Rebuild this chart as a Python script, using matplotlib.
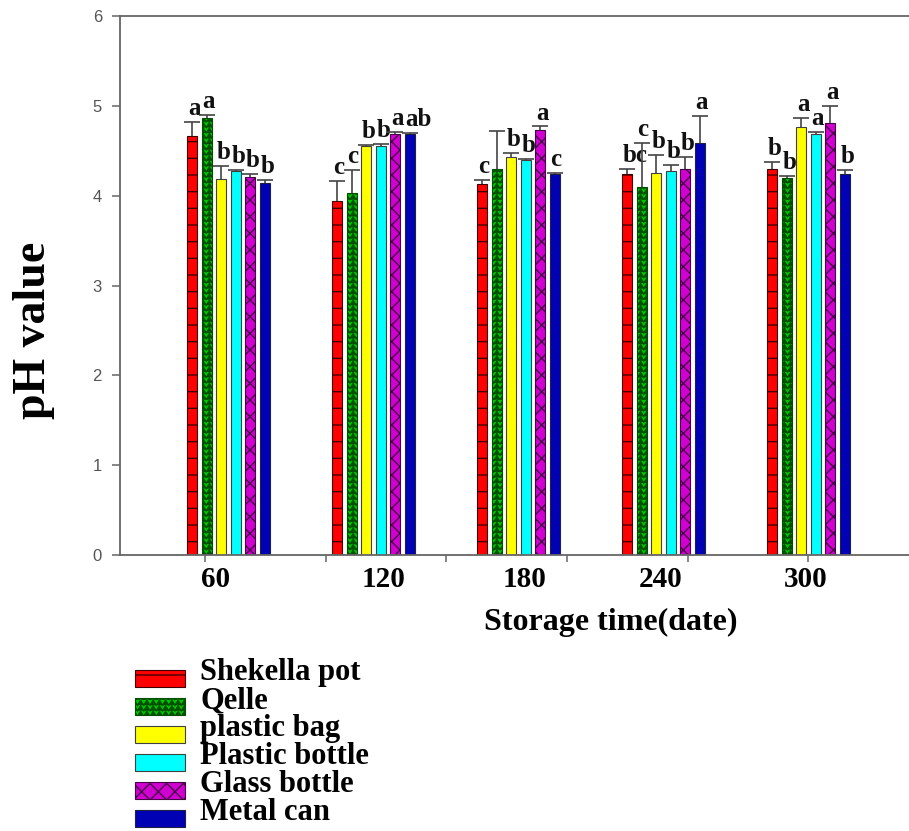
import numpy as np
import matplotlib
matplotlib.use("Agg")
import matplotlib.pyplot as plt
from matplotlib import hatch as mhatch
from matplotlib.path import Path
from matplotlib.patches import Rectangle
from matplotlib.container import BarContainer
from matplotlib.legend_handler import HandlerPatch, update_from_first_child

storage_days = ["60", "120", "180", "240", "300"]
packages = ["Shekella pot", "Qelle", "plastic bag", "Plastic bottle", "Glass bottle", "Metal can"]

# mean pH and upper error per package, one value per storage time
shekella_pot = [4.66, 3.94, 4.13, 4.24, 4.30]
shekella_pot_err = [0.16, 0.22, 0.04, 0.06, 0.07]
qelle = [4.86, 4.03, 4.30, 4.10, 4.20]
qelle_err = [0.04, 0.26, 0.42, 0.49, 0.02]
plastic_bag = [4.19, 4.55, 4.43, 4.25, 4.76]
plastic_bag_err = [0.14, 0.01, 0.05, 0.20, 0.11]
plastic_bottle = [4.27, 4.55, 4.40, 4.27, 4.69]
plastic_bottle_err = [0.02, 0.03, 0.01, 0.07, 0.02]
glass_bottle = [4.21, 4.69, 4.73, 4.30, 4.81]
glass_bottle_err = [0.03, 0.02, 0.04, 0.13, 0.19]
metal_can = [4.14, 4.69, 4.24, 4.59, 4.24]
metal_can_err = [0.03, 0.01, 0.01, 0.30, 0.05]

# significance letters (same order)
shekella_pot_sig = ["a", "c", "c", "bc", "b"]
qelle_sig = ["a", "c", "", "c", "b"]
plastic_bag_sig = ["b", "b", "b", "b", "a"]
plastic_bottle_sig = ["b", "b", "b", "b", "a"]
glass_bottle_sig = ["b", "a", "a", "b", "a"]
metal_can_sig = ["b", "ab", "c", "a", "b"]

means = [shekella_pot, qelle, plastic_bag, plastic_bottle, glass_bottle, metal_can]
errs = [shekella_pot_err, qelle_err, plastic_bag_err, plastic_bottle_err,
        glass_bottle_err, metal_can_err]
sigs = [shekella_pot_sig, qelle_sig, plastic_bag_sig, plastic_bottle_sig,
        glass_bottle_sig, metal_can_sig]


# zigzag fill for the Qelle bars, hooked in on the '*' hatch character
class ZigzagHatch(mhatch.HatchPatternBase):
    def __init__(self, hatch, density):
        self.num_rows = int(hatch.count('*') * density * 3)
        self.per_row = 2 * 16 + 1
        self.num_vertices = self.num_rows * self.per_row

    def set_vertices_and_codes(self, vertices, codes):
        xs = np.linspace(0.0, 1.0, self.per_row)
        bump = np.where(np.arange(self.per_row) % 2, 0.45, -0.45) / self.num_rows
        for k in range(self.num_rows):
            sl = slice(k * self.per_row, (k + 1) * self.per_row)
            vertices[sl, 0] = xs
            vertices[sl, 1] = (k + 0.5) / self.num_rows + bump
            codes[sl] = Path.LINETO
            codes[k * self.per_row] = Path.MOVETO


mhatch._hatch_types = [t for t in mhatch._hatch_types if t is not mhatch.Stars] + [ZigzagHatch]


# legend swatches sit a little lower than the middle of their label
def low_swatch(legend, orig_handle, xdescent, ydescent, width, height, fontsize):
    return Rectangle((-xdescent, -ydescent - 0.3 * fontsize), width, height)


fills = ["#ff0000", "#00c800", "#ffff00", "#00ffff", "#d000d0", "#0000b4"]
edges = ["#400000", "#005000", "#404040", "#404040", "#480048", "#202040"]
hatches = ["-", "*", None, None, "xx", None]

serif = "Liberation Serif"
sans = "Liberation Sans"
axis_grey = "#666666"

fig = plt.figure(figsize=(9.09, 8.31), dpi=100)
ax = fig.add_axes([120 / 909, 1 - 555 / 831, 789 / 909, 539 / 831])

x = np.arange(len(storage_days))
step = 0.1
width = 0.066

bars = []
for j, (m, e, s) in enumerate(zip(means, errs, sigs)):
    xj = x + (j - 2.5) * step
    b = ax.bar(xj, m, width, color=fills[j], edgecolor=edges[j], hatch=hatches[j],
               linewidth=0.8, label=packages[j], zorder=2)
    bars.append(b)
    _, caps, _ = ax.errorbar(xj, m, yerr=[np.zeros(len(m)), e], fmt="none",
                             ecolor="#444444", elinewidth=1.2, capsize=5.5,
                             capthick=1.2, zorder=3)
    caps[0].set_visible(False)
    for xi, mi, ei, letter in zip(xj, m, e, s):
        ax.annotate(letter, (xi, mi + ei), xytext=(-3, 5), textcoords="offset points",
                    ha="left", va="baseline", fontsize=18, fontweight="bold",
                    family=serif, color="#111111")

ax.set_xlim(-0.748, 4.693)
ax.set_ylim(0, 6)

for side in ["left", "bottom", "top"]:
    ax.spines[side].set_color(axis_grey)
    ax.spines[side].set_linewidth(1.3)
ax.spines["right"].set_visible(False)

ax.set_yticks(range(7))
ax.tick_params(axis="y", direction="out", length=6, width=1.1, color=axis_grey,
               labelcolor="#555555", labelsize=12, pad=7)
for lab in ax.get_yticklabels():
    lab.set_family(sans)

# storage time labels sit near, not exactly on, the group centres
label_nudge = [-0.09, 0.07, 0.04, -0.02, -0.02]
ax.set_xticks(x + np.array(label_nudge), storage_days)
ax.tick_params(axis="x", which="major", length=0, pad=8, labelsize=21)
for lab in ax.get_xticklabels():
    lab.set_family(serif)
    lab.set_fontweight("bold")
ax.set_xticks(np.arange(6) * 0.832 - 0.162, minor=True)
ax.tick_params(axis="x", which="minor", direction="out", length=5, width=1.1,
               color=axis_grey)

ax.set_xlabel("Storage time(date)", fontsize=23, fontweight="bold", family=serif,
              va="baseline")
ax.xaxis.set_label_coords(0.622, -0.139)
ax.set_ylabel("pH value", fontsize=33, fontweight="bold", family=serif)
ax.yaxis.set_label_coords(-0.083, 0.416)

fig.legend(handles=bars, labels=packages, loc="upper left",
           bbox_to_anchor=(135 / 909, 1 - 658 / 831), frameon=False,
           prop={"family": serif, "weight": "bold", "size": 22},
           handler_map={BarContainer: HandlerPatch(patch_func=low_swatch,
                                                   update_func=update_from_first_child)},
           handlelength=1.63, handleheight=0.49, handletextpad=0.5,
           labelspacing=-0.03, borderpad=0, borderaxespad=0)

fig.savefig("out.png", dpi=100)
